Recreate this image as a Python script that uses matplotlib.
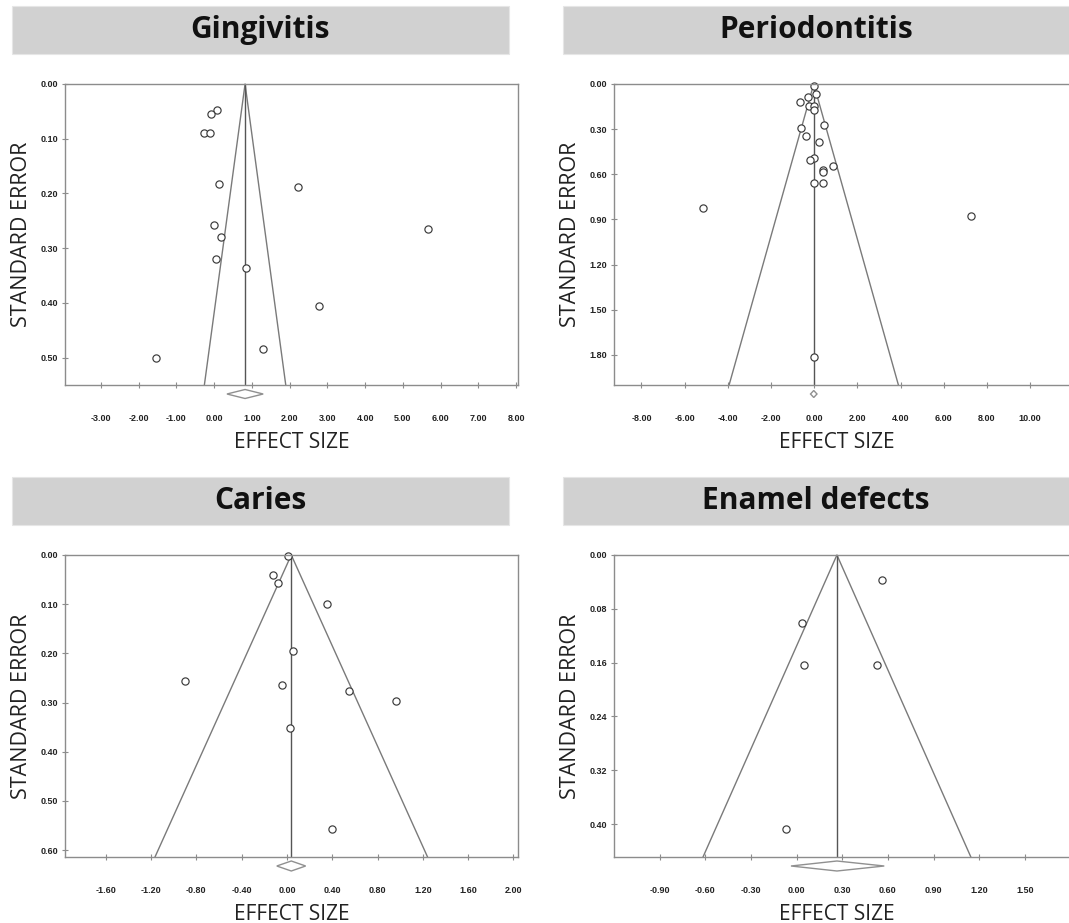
import numpy as np
import matplotlib
matplotlib.use('Agg')
import matplotlib.pyplot as plt
from matplotlib.patches import Rectangle, Polygon
from matplotlib.transforms import blended_transform_factory

W, H = 1069, 923

# ---- data ----
titles = ['Gingivitis', 'Periodontitis', 'Caries', 'Enamel defects']

gin_es = [0.08, -0.07, -0.26, -0.10, 0.13, 2.21, -0.01, 0.19, 5.66, 0.06, 0.84, 2.78, 1.30, -1.54]
gin_se = [0.047, 0.055, 0.090, 0.090, 0.182, 0.188, 0.257, 0.280, 0.265, 0.320, 0.336, 0.405, 0.485, 0.500]
gin_mean = 0.82
gin_ci = [0.34, 1.30]

per_es = [0.0, 0.09, -0.28, -0.65, -0.26, 0.0, -0.03, 0.46, -0.62, -0.39, 0.22, 0.0, -0.19,
          0.86, 0.40, 0.43, -0.02, 0.43, -5.14, 7.27, 0.0]
per_se = [0.013, 0.066, 0.084, 0.119, 0.146, 0.146, 0.172, 0.272, 0.294, 0.345, 0.387, 0.495, 0.508,
          0.546, 0.572, 0.585, 0.658, 0.658, 0.824, 0.877, 1.811]
per_mean = -0.02
per_ci = [-0.17, 0.13]

car_es = [0.006, -0.12, -0.08, 0.35, 0.056, -0.90, -0.04, 0.55, 0.96, 0.03, 0.40]
car_se = [0.002, 0.041, 0.056, 0.099, 0.196, 0.256, 0.264, 0.277, 0.296, 0.351, 0.557]
car_mean = 0.038
car_ci = [-0.09, 0.165]

ena_es = [0.561, 0.033, 0.050, 0.526, -0.068]
ena_se = [0.037, 0.101, 0.163, 0.163, 0.407]
ena_mean = 0.265
ena_ci = [-0.037, 0.576]

panels = [
    dict(es=gin_es, se=gin_se, mean=gin_mean, ci=gin_ci, xlim=(-3.95, 8.05), ylim=0.55,
         xticks=np.arange(-3, 8.01, 1.0), yticks=np.arange(0, 0.501, 0.1),
         box=(65, 84, 518, 385), bar=(12, 6, 509, 54), right=True, dh=9),
    dict(es=per_es, se=per_se, mean=per_mean, ci=per_ci, xlim=(-9.27, 11.8), ylim=2.0,
         xticks=np.arange(-8, 10.01, 2.0), yticks=np.arange(0, 1.801, 0.3),
         box=(614, 84, 1069, 385), bar=(563, 6, 1075, 54), right=False, dh=7),
    dict(es=car_es, se=car_se, mean=car_mean, ci=car_ci, xlim=(-1.96, 2.04), ylim=0.614,
         xticks=np.arange(-1.6, 2.01, 0.4), yticks=np.arange(0, 0.601, 0.1),
         box=(65, 555, 518, 857), bar=(12, 477, 509, 525), right=True, dh=10),
    dict(es=ena_es, se=ena_se, mean=ena_mean, ci=ena_ci, xlim=(-1.2, 1.79), ylim=0.449,
         xticks=np.arange(-0.9, 1.51, 0.3), yticks=np.arange(0, 0.401, 0.08),
         box=(614, 555, 1069, 857), bar=(563, 477, 1075, 525), right=False, dh=10),
]

line_col = '#7a7a7a'
spine_col = '#8c8c8c'
label_font = 'Open Sans'
tick_font = 'Liberation Sans'


def frac_box(l, t, r, b):
    return [l / W, 1 - b / H, (r - l) / W, (b - t) / H]


fig = plt.figure(figsize=(W / 100, H / 100), dpi=100)

for title, p in zip(titles, panels):
    # title bar
    bl, bt, br, bb = p['bar']
    fig.add_artist(Rectangle((bl / W, 1 - bb / H), (br - bl) / W, (bb - bt) / H,
                             transform=fig.transFigure, facecolor='#d1d1d1',
                             edgecolor='#e6e6e6', lw=0.8))
    cx = (bl + min(br, W)) / 2
    fig.text(cx / W, 1 - (bt + bb) / 2 / H, title, ha='center', va='center',
             fontsize=21.5, fontweight='bold', family=label_font, color='#111111')

    ax = fig.add_axes(frac_box(*p['box']))
    ymax = p['ylim']
    m = p['mean']
    # funnel (mean +/- 1.96 SE) and mean line
    ax.plot([m - 1.96 * ymax, m, m + 1.96 * ymax], [ymax, 0, ymax], color=line_col, lw=1.0,
            clip_on=False)
    ax.plot([m, m], [0, ymax], color='#555555', lw=1.0)
    ax.plot(p['es'], p['se'], 'o', mfc='white', mec='#3a3a3a', ms=5.2, mew=0.85, clip_on=False)

    # summary diamond below the axis
    tr = blended_transform_factory(ax.transData, ax.transAxes)
    axh = p['box'][3] - p['box'][1]
    yc = -9.0 / axh
    hh = p['dh'] / 2 / axh
    lo, hi = p['ci']
    ax.add_patch(Polygon([[lo, yc], [m, yc + hh], [hi, yc], [m, yc - hh]], closed=True,
                         transform=tr, facecolor='white', edgecolor='#909090', lw=1.0,
                         clip_on=False))

    ax.set_xlim(*p['xlim'])
    ax.set_ylim(ymax, 0)
    ax.set_xticks(p['xticks'])
    ax.set_yticks(p['yticks'])
    ax.set_xticklabels(['%.2f' % v if abs(v) > 1e-9 else '0.00' for v in p['xticks']])
    ax.set_yticklabels(['%.2f' % v for v in p['yticks']])
    ax.tick_params(axis='x', direction='inout', length=4, width=0.8, color=spine_col, pad=19,
                   labelsize=6.5)
    ax.tick_params(axis='y', direction='inout', length=4, width=0.8, color=spine_col, pad=3,
                   labelsize=6.5)
    for lab in ax.get_xticklabels() + ax.get_yticklabels():
        lab.set_family(tick_font)
        lab.set_fontweight('bold')
        lab.set_color('#222222')
    for side, sp in ax.spines.items():
        sp.set_color(spine_col)
        sp.set_linewidth(1.0)
    if not p['right']:
        ax.spines['right'].set_visible(False)

    ax.set_xlabel('EFFECT SIZE', family=label_font, fontsize=15, color='#222222')
    ax.set_ylabel('STANDARD ERROR', family=label_font, fontsize=15.5, color='#222222')
    aw = p['box'][2] - p['box'][0]
    ax.xaxis.set_label_coords(0.5 if p['right'] else 0.49, -57.0 / axh)
    ax.yaxis.set_label_coords(-43.0 / aw, 0.5)
    ax.xaxis.label.set_va('center')
    ax.yaxis.label.set_va('center')

fig.savefig('out.png', dpi=100)
